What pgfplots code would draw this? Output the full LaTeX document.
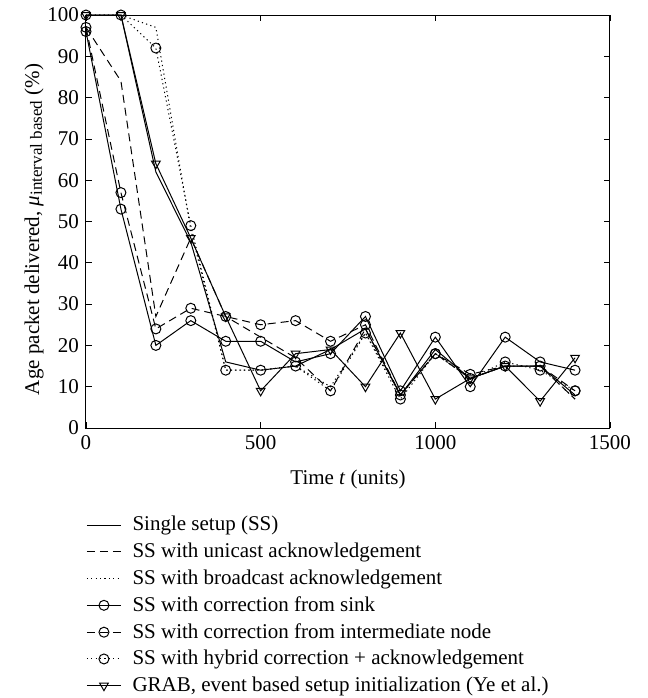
\documentclass[border=0pt]{standalone}
\usepackage{fontspec}
\setmainfont{Liberation Serif}
\usepackage{pgfplots}
\pgfplotsset{compat=1.18}
\begin{document}
\begin{tikzpicture}[font=\fontsize{10.5}{12.6}\selectfont]
\useasboundingbox (-43pt,-135pt) rectangle (281pt,214pt);
\begin{axis}[
  at={(0,0)}, anchor=south west,
  scale only axis, width=262pt, height=206.5pt,
  xmin=0, xmax=1500, ymin=0, ymax=100,
  xtick={0,500,1000,1500}, ytick={0,10,...,100},
  tick align=inside, major tick length=3pt,
  axis line style={line width=0.5pt},
  every tick/.style={black, line width=0.4pt},
  /pgf/number format/assume math mode=true,
  /pgf/number format/set thousands separator={},
  tick label style={font=\fontsize{10.5}{12.6}\selectfont},
  xlabel={Time \textit{t} (units)},
  ylabel={Age packet delivered, \textit{μ}{\fontsize{8.5}{10}\selectfont\raisebox{-0.35ex}{interval based}} (\%)},
  xlabel style={yshift=-3.5pt},
  ylabel style={yshift=-5pt, xshift=-4pt},
  clip=false,
  legend cell align=left,
  legend style={at={(rel axis cs:0,0)}, anchor=north west, xshift=-3pt, yshift=-40pt,
    draw=none, fill=none, row sep=0.55pt, column sep=3.5pt, font=\fontsize{10.5}{12.6}\selectfont},
  every axis plot/.append style={line width=0.5pt, black},
  mark size=2.5pt,
]
% Single setup (SS)
\addplot[solid] coordinates {(0,100)(100,100)(200,62)(300,45)(400,16)(500,14)(600,15)(700,19)(800,24)(900,8)(1000,19)(1100,12)(1200,15)(1300,15)(1400,8)};
\addlegendentry{Single setup (SS)}
% unicast
\addplot[dash pattern=on 4pt off 2.5pt] coordinates {(0,97)(100,84)(200,27)(300,46)(400,27)(500,22)(600,17)(700,9)(800,24)(900,8)(1000,18)(1100,12)(1200,15)(1300,15)(1400,7)};
\addlegendentry{SS with unicast acknowledgement}
% broadcast
\addplot[dash pattern=on 0.6pt off 1.6pt] coordinates {(0,100)(100,100)(200,97)(300,48)(400,14)(500,14)(600,15)(700,10)(800,23)(900,8)(1000,18)(1100,12)(1200,15)(1300,15)(1400,7)};
\addlegendentry{SS with broadcast acknowledgement}
% sink
\addplot[solid, mark=o] coordinates {(0,96)(100,53)(200,20)(300,26)(400,21)(500,21)(600,16)(700,18)(800,27)(900,9)(1000,22)(1100,10)(1200,22)(1300,16)(1400,14)};
\addlegendentry{SS with correction from sink}
% intermediate
\addplot[dash pattern=on 4pt off 2.5pt, mark=o, mark options={solid}] coordinates {(0,97)(100,57)(200,24)(300,29)(400,27)(500,25)(600,26)(700,21)(800,25)(900,8)(1000,18)(1100,13)(1200,15)(1300,15)(1400,9)};
\addlegendentry{SS with correction from intermediate node}
% hybrid
\addplot[dash pattern=on 0.6pt off 1.6pt, mark=o, mark options={solid}] coordinates {(0,100)(100,100)(200,92)(300,49)(400,14)(500,14)(600,15)(700,9)(800,23)(900,7)(1000,18)(1100,12)(1200,16)(1300,14)(1400,9)};
\addlegendentry{SS with hybrid correction + acknowledgement}
% GRAB
\addplot[solid, mark=triangle, mark options={rotate=180, solid}] coordinates {(0,100)(100,100)(200,64)(300,46)(400,27)(500,9)(600,18)(700,19)(800,10)(900,23)(1000,7)(1100,12)(1200,15)(1300,6.5)(1400,17)};
\addlegendentry{GRAB, event based setup initialization (Ye et al.)}
\end{axis}
\end{tikzpicture}
\end{document}
